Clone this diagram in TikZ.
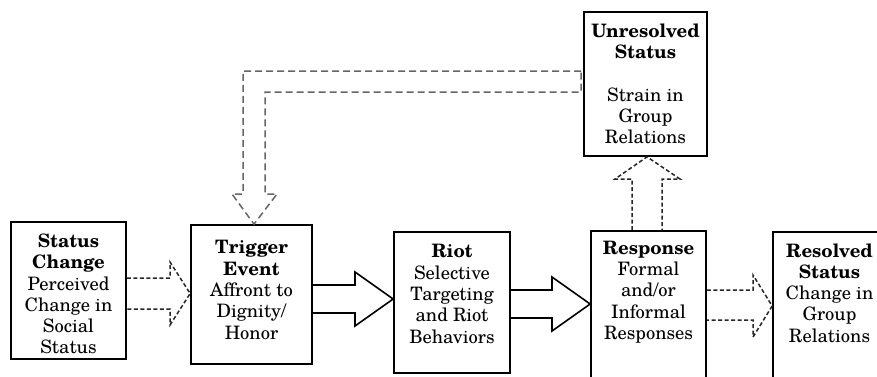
\documentclass[tikz,border=0pt]{standalone}
\usepackage{fontspec}
\setmainfont{TeX Gyre Schola}
\begin{document}
\begin{tikzpicture}[x=1pt,y=-1pt,
  box/.style={draw=black, line width=1.7pt, inner sep=0pt},
  txt/.style={align=center, inner sep=0pt, font=\fontsize{18.5}{21.3}\selectfont},
  solidarrow/.style={draw=black, line width=1.6pt, line join=miter},
  dasharrow/.style={draw=black!85, line width=1.5pt, dash pattern=on 4pt off 2.5pt},
  feedarrow/.style={draw=black!60, line width=1.5pt, dash pattern=on 7pt off 4pt}]
\clip (0,0) rectangle (877,376);
\fill[white] (0,0) rectangle (877,376);
% boxes
\node[box, minimum width=115pt, minimum height=137pt] (sc) at (68.5,290.5) {};
\node[box, minimum width=121pt, minimum height=139pt] (te) at (251.5,294.5) {};
\node[box, minimum width=116pt, minimum height=141pt] (ri) at (452,302.5) {};
\node[box, minimum width=115pt, minimum height=169pt] (rp) at (648.5,315.5) {};
\node[box, minimum width=117pt, minimum height=168pt] (rs) at (831.5,316) {};
\node[box, minimum width=123pt, minimum height=144pt] (ur) at (645.5,84) {};
% texts
\node[txt] (sct) at (68.5,294) {\textbf{Status}\\\textbf{Change}\\Perceived\\Change in\\Social\\Status};
\node[txt] (tet) at (251.5,290) {\textbf{Trigger}\\\textbf{Event}\\Affront to\\Dignity/\\Honor};
\node[txt] (rit) at (452,294) {\textbf{Riot}\\Selective\\Targeting\\and Riot\\Behaviors};
\node[txt] (rpt) at (648.5,292) {\textbf{Response}\\Formal\\and/or\\Informal\\Responses};
\node[txt] (rst) at (829.5,293) {\textbf{Resolved}\\\textbf{Status}\\Change in\\Group\\Relations};
\node[txt] (urt) at (645.5,84) {\textbf{Unresolved}\\\textbf{Status}\\[21.3pt]Strain in\\Group\\Relations};
% arrows
\draw[dasharrow] (sc.east |- 0,278) -- (170,278) -- (170,262) -- (te.west |- 0,293.5)
  -- (170,325) -- (170,309) -- (sc.east |- 0,309);
\draw[solidarrow] (te.east |- 0,285) -- (355,285) -- (355,272) -- (ri.west |- 0,299)
  -- (355,326) -- (355,313) -- (te.east |- 0,313);
\draw[solidarrow] (ri.east |- 0,290) -- (552,290) -- (552,277) -- (rp.west |- 0,304)
  -- (552,331) -- (552,318) -- (ri.east |- 0,318);
\draw[dasharrow] (rp.east |- 0,290) -- (753,290) -- (753,275) -- (rs.west |- 0,306)
  -- (753,337) -- (753,320) -- (rp.east |- 0,320);
\draw[dasharrow] (rp.north -| 632,0) -- (632,179) -- (615,179) -- (ur.south -| 647,0)
  -- (680,179) -- (662,179) -- (rp.north -| 662,0);
\draw[feedarrow] ([xshift=-2pt]ur.west |- 0,71) -- (243,71) -- (243,194) -- (232,194)
  -- (te.north -| 254,0) -- (277,194) -- (265,194) -- (265,92) -- ([xshift=-2pt]ur.west |- 0,92) -- cycle;
\end{tikzpicture}
\end{document}
